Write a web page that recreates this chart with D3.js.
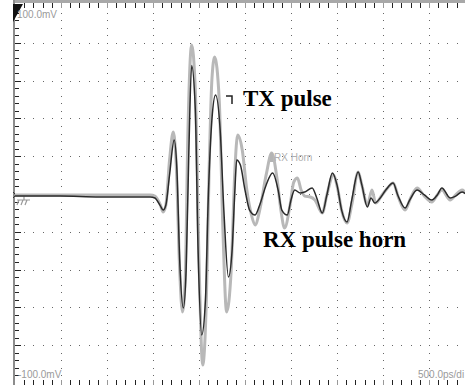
<!DOCTYPE html>
<html lang="en">
<head>
<meta charset="UTF-8">
<title>TX pulse / RX pulse horn</title>
<script src="https://d3js.org/d3.v7.min.js"></script>
<style>
    body { margin: 0; background: #fff; }
    .scale-label { font-family: "Liberation Sans", Arial, sans-serif; font-size: 10px; fill: #9a9a9a; }
    .trace-label { font-family: "Liberation Serif", serif; font-weight: bold; font-size: 23px; fill: #000; }
</style>
</head>
<body>
<div id="chart"></div>
<script>
    // scope settings: 500 ps/div, 20 mV/div, 10 x 10 divisions
    const timeDomain = [0, 5];        // ns
    const voltDomain = [-100, 100];   // mV
    const scaleLabels = ["100.0mV", "-100.0mV", "500.0ps/di"];

    // TX pulse (dark trace), [time ns, mV]
    const txPulse = [
        [0.00, -1.1], [0.49, -1.1], [0.92, -1.6], [1.25, -1.6], [1.47, -1.6], [1.52, -2.1],
        [1.58, -6.3], [1.61, -8.5], [1.64, -5.8], [1.68, 10.1], [1.73, 28.6], [1.76, 12.7],
        [1.79, -34.9], [1.83, -60.3], [1.86, -40.2], [1.89, 23.3], [1.92, 68.0], [1.96, 44.4],
        [1.99, -29.6], [2.03, -74.6], [2.07, -56.1], [2.10, -3.2], [2.14, 39.1], [2.18, 52.4],
        [2.23, 33.9], [2.27, -8.5], [2.32, -43.9], [2.36, -29.6], [2.39, 2.1], [2.41, 18.0],
        [2.45, 15.3], [2.50, 2.1], [2.55, -8.5], [2.61, -11.1], [2.66, -5.8], [2.73, 4.8],
        [2.80, 11.1], [2.86, 2.1], [2.90, -8.5], [2.96, -11.1], [3.00, -3.2], [3.04, 2.1],
        [3.10, 0.5], [3.15, 1.1], [3.23, 3.2], [3.28, -2.1], [3.34, -10.1], [3.39, -0.5],
        [3.45, 11.1], [3.50, 4.8], [3.55, -8.5], [3.61, -14.8], [3.66, -3.2], [3.73, 11.6],
        [3.77, 4.8], [3.83, -6.9], [3.87, -2.1], [3.91, -4.8], [3.97, -2.1], [4.03, 2.1],
        [4.11, 5.8], [4.16, -0.5], [4.24, -7.4], [4.29, -3.2], [4.37, 2.1], [4.45, -0.5],
        [4.53, -3.2], [4.59, -0.5], [4.64, 3.2], [4.73, -2.1], [4.79, -1.1], [4.86, 1.1],
        [4.90, 0.0]
    ];

    // RX pulse horn (light trace)
    const rxHorn = [
        [0.00, -0.5], [0.49, -0.5], [1.47, -0.5], [1.52, -1.1], [1.58, -5.8], [1.61, -9.5],
        [1.64, -5.8], [1.68, 18.0], [1.72, 32.8], [1.75, 18.0], [1.79, -40.2], [1.82, -62.4],
        [1.85, -45.5], [1.88, 33.9], [1.92, 78.8], [1.96, 55.0], [2.00, -34.9], [2.04, -90.5],
        [2.08, -56.1], [2.11, 12.7], [2.14, 60.3], [2.17, 72.5], [2.22, 49.7], [2.26, -19.0],
        [2.30, -62.4], [2.35, -40.2], [2.39, 12.7], [2.42, 31.2], [2.47, 23.3], [2.52, 2.1],
        [2.57, -11.1], [2.61, -16.4], [2.66, -8.5], [2.73, 10.1], [2.79, 21.7], [2.85, 7.4],
        [2.89, -8.5], [2.93, -18.0], [2.99, -5.8], [3.03, 6.3], [3.07, 8.5], [3.11, 2.1],
        [3.15, -1.1], [3.21, -1.6], [3.26, -3.2], [3.34, -10.1], [3.39, -0.5], [3.46, 10.1],
        [3.51, 2.1], [3.55, -8.5], [3.61, -15.3], [3.66, -5.8], [3.73, 11.6], [3.77, 4.8],
        [3.83, -5.8], [3.88, 2.1], [3.92, -4.8], [3.99, -0.5], [4.05, 3.2], [4.11, 5.8],
        [4.17, -2.1], [4.24, -8.5], [4.30, -2.1], [4.37, 3.2], [4.45, -1.1], [4.53, -4.2],
        [4.59, -0.5], [4.64, 2.1], [4.73, -3.2], [4.79, -0.5], [4.86, 2.1], [4.90, 0.5]
    ];

    const W = 465, H = 385;
    const padLeft = 15, padTop = 5, padBottom = 383;

    const x = d3.scaleLinear().domain(timeDomain).range([padLeft, padLeft + 460]);
    const y = d3.scaleLinear().domain(voltDomain).range([padBottom, padTop]);

    const svg = d3.select("#chart").append("svg")
        .attr("width", W).attr("height", H)
        .style("display", "block");

    svg.append("rect").attr("width", W).attr("height", H).attr("fill", "#fff");

    const majorT = d3.range(0, 5.001, 0.5);
    const minorT = d3.range(0, 5.001, 0.1);
    const majorV = d3.range(-100, 100.001, 20);
    const minorV = d3.range(-100, 100.001, 4);

    // dotted graticule
    const grid = svg.append("g");
    majorT.slice(1).forEach(t => {
        grid.append("g").selectAll("rect").data(minorV.slice(1, -1)).join("rect")
            .attr("x", Math.round(x(t))).attr("y", v => Math.round(y(v)))
            .attr("width", 1).attr("height", 1).attr("fill", "#666");
    });
    majorV.slice(1, -1).forEach(v => {
        grid.append("g").selectAll("rect").data(minorT.slice(1)).join("rect")
            .attr("x", t => Math.round(x(t))).attr("y", Math.round(y(v)))
            .attr("width", 1).attr("height", 1).attr("fill", "#666");
    });

    // frame: top, left and bottom edges with tick marks
    svg.append("rect").attr("x", padLeft - 2).attr("y", 0).attr("width", W).attr("height", 3).attr("fill", "#a8a8a8");
    svg.append("rect").attr("x", padLeft - 2).attr("y", 0).attr("width", 2).attr("height", H).attr("fill", "#8c8c8c");

    svg.append("g").selectAll("line").data(minorT.slice(1)).join("line")
        .attr("x1", t => Math.round(x(t)) + 0.5).attr("x2", t => Math.round(x(t)) + 0.5)
        .attr("y1", 3).attr("y2", 8)
        .attr("stroke", (t, i) => (i + 1) % 5 === 0 ? "#999" : "#222");
    svg.append("g").selectAll("line").data(minorT.slice(1)).join("line")
        .attr("x1", t => Math.round(x(t)) + 0.5).attr("x2", t => Math.round(x(t)) + 0.5)
        .attr("y1", H).attr("y2", H - 5)
        .attr("stroke", (t, i) => (i + 1) % 5 === 0 ? "#999" : "#222");
    svg.append("g").selectAll("line").data(minorV.slice(1, -1)).join("line")
        .attr("x1", padLeft).attr("x2", (v, i) => (i + 1) % 5 === 0 ? padLeft + 6 : padLeft + 4)
        .attr("y1", v => Math.round(y(v)) + 0.5).attr("y2", v => Math.round(y(v)) + 0.5)
        .attr("stroke", "#222");

    // channel marker top-left
    svg.append("path").attr("d", `M${padLeft - 2},4 L${padLeft + 8},4 L${padLeft - 2},22 Z`).attr("fill", "#111");

    // ground reference marker
    const g0 = y(0) + 1;
    svg.append("path")
        .attr("d", `M${padLeft},${g0} H${padLeft + 9} V${g0 + 5} M${padLeft + 2},${g0 + 5} H${padLeft + 15}` +
            ` M${padLeft + 2},${g0 + 10} L${padLeft + 4},${g0 + 5} M${padLeft + 6},${g0 + 10} L${padLeft + 8},${g0 + 5}` +
            ` M${padLeft + 10},${g0 + 10} L${padLeft + 12},${g0 + 5}`)
        .attr("fill", "none").attr("stroke", "#999").attr("stroke-width", 1.2);
    svg.append("path").attr("d", `M${padLeft - 2},${g0 - 3} L${padLeft + 1},${g0} L${padLeft - 2},${g0 + 3}`)
        .attr("fill", "none").attr("stroke", "#333");

    // traces
    const line = d3.line().x(d => x(d[0])).y(d => y(d[1])).curve(d3.curveMonotoneX);

    svg.append("path").datum(rxHorn)
        .attr("d", line).attr("fill", "none")
        .attr("stroke", "#b8b8b8").attr("stroke-width", 3).attr("stroke-linejoin", "round");
    svg.append("path").datum(txPulse)
        .attr("d", line).attr("fill", "none")
        .attr("stroke", "#2a2a2a").attr("stroke-width", 1.5).attr("stroke-linejoin", "round");

    // scale readouts
    svg.append("text").attr("class", "scale-label").attr("x", padLeft + 2).attr("y", 18).text(scaleLabels[0]);
    svg.append("text").attr("class", "scale-label").attr("x", padLeft + 3).attr("y", 378).text(scaleLabels[1]);
    svg.append("text").attr("class", "scale-label").attr("x", 418).attr("y", 378).text(scaleLabels[2]);

    // reference trace tag
    svg.append("rect").attr("x", 270).attr("y", 153).attr("width", 3).attr("height", 9).attr("fill", "#b4b4b4");
    svg.append("text").attr("class", "scale-label").attr("x", 274).attr("y", 161)
        .style("fill", "#b0b0b0").text("RX Horn");

    // cursor mark near TX peak
    svg.append("path").attr("d", "M226,96 H232 V104").attr("fill", "none").attr("stroke", "#222").attr("stroke-width", 1.5);

    svg.append("text").attr("class", "trace-label").attr("x", 243).attr("y", 106).text("TX pulse");
    svg.append("text").attr("class", "trace-label").attr("x", 263).attr("y", 247).text("RX pulse horn");
</script>
</body>
</html>
